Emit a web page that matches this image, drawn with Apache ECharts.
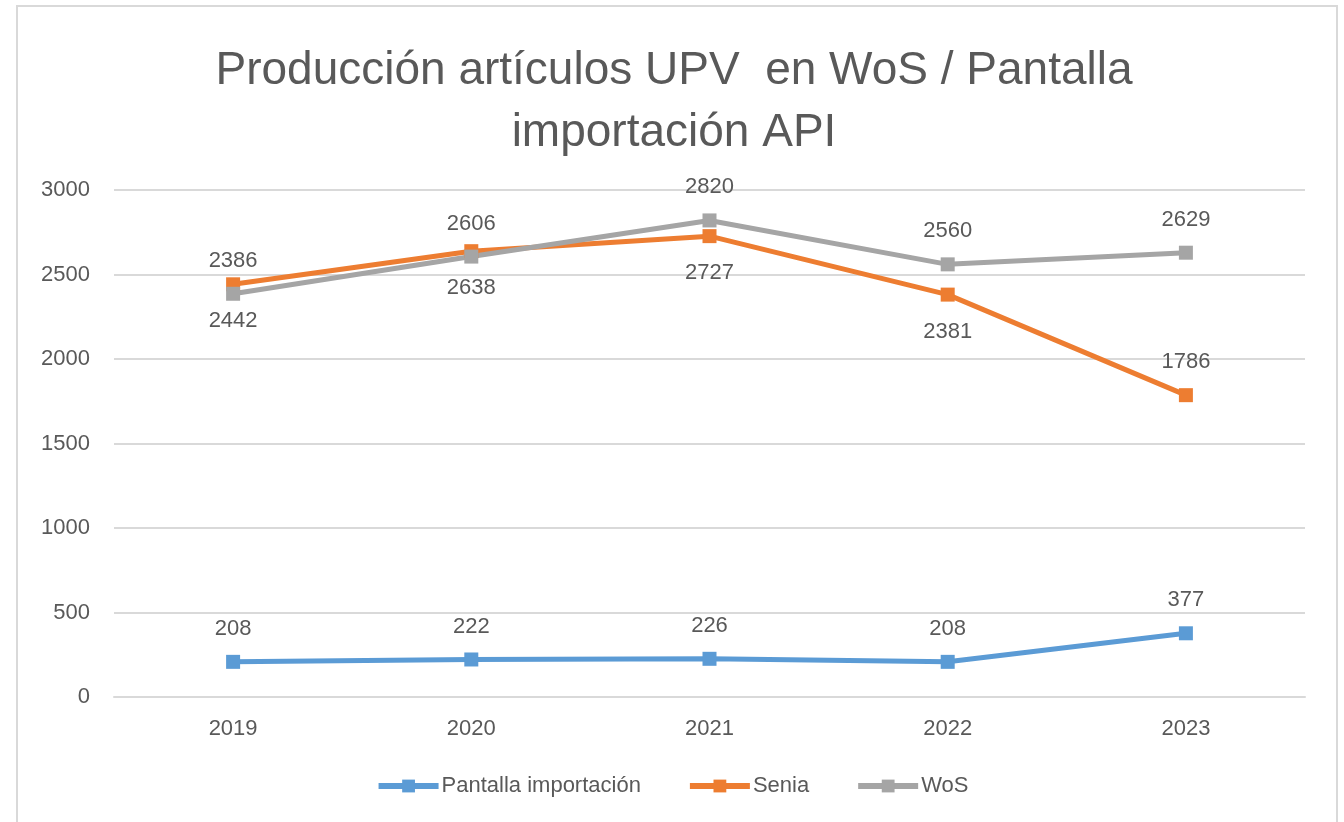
<!DOCTYPE html>
<html>
<head>
<meta charset="utf-8">
<script src="https://cdn.jsdelivr.net/npm/echarts@6/dist/echarts.min.js"></script>
<style>
html,body{margin:0;padding:0;background:#fff;}
#chart{width:1344px;height:822px;}
</style>
</head>
<body>
<div id="chart"></div>
<script>
const categories = ['2019', '2020', '2021', '2022', '2023'];
const pantalla = [208, 222, 226, 208, 377];
const senia = [2442, 2638, 2727, 2381, 1786];
const wos = [2386, 2606, 2820, 2560, 2629];
const seniaLabelPos = ['bottom', 'bottom', 'bottom', 'bottom', 'top'];
const yTicks = [0, 500, 1000, 1500, 2000, 2500, 3000];

const FONT = '"Liberation Sans", "Open Sans", sans-serif';
const TXT = '#595959';

const chart = echarts.init(document.getElementById('chart'));

function lineSeries(name, data, color, labelPos) {
  return {
    name: name,
    type: 'line',
    data: data.map((v, i) => ({
      value: v,
      label: { position: labelPos[i], distance: labelPos[i] === 'top' ? 15 : 19 }
    })),
    symbol: 'rect',
    symbolSize: 14,
    lineStyle: { color: color, width: 5 },
    itemStyle: { color: color },
    label: { show: true, color: TXT, fontSize: 22, fontFamily: FONT },
    z: 3
  };
}

chart.setOption({
  animation: false,
  backgroundColor: '#fff',
  title: {
    text: 'Producción artículos UPV  en WoS / Pantalla\nimportación API',
    left: 669,
    textAlign: 'center',
    top: 35,
    textStyle: { fontFamily: FONT, fontSize: 46, fontWeight: 'normal', color: TXT, lineHeight: 62 }
  },
  legend: {
    bottom: 20,
    left: 'center',
    itemWidth: 60,
    itemHeight: 16,
    itemGap: 46,
    lineStyle: { width: 6 },
    textStyle: { fontFamily: FONT, fontSize: 22, color: TXT, padding: [0, 0, 0, -2] },
    data: ['Pantalla importación', 'Senia', 'WoS']
  },
  grid: { left: 114, right: 39, top: 190, bottom: 125 },
  xAxis: {
    type: 'category',
    data: categories,
    boundaryGap: true,
    axisLine: { lineStyle: { color: '#d9d9d9', width: 2 } },
    axisTick: { show: false },
    axisLabel: { color: TXT, fontSize: 22, fontFamily: FONT, margin: 21 }
  },
  yAxis: {
    type: 'value',
    min: yTicks[0],
    max: yTicks[yTicks.length - 1],
    interval: yTicks[1] - yTicks[0],
    axisLine: { show: false },
    axisTick: { show: false },
    splitLine: { lineStyle: { color: '#d9d9d9', width: 2 } },
    axisLabel: { color: TXT, fontSize: 22, fontFamily: FONT, margin: 24, formatter: v => String(v) }
  },
  graphic: [{
    type: 'rect',
    shape: { x: 17, y: 6, width: 1320, height: 830 },
    style: { fill: 'none', stroke: '#d9d9d9', lineWidth: 2 },
    silent: true
  }],
  series: [
    lineSeries('Pantalla importación', pantalla, '#5B9BD5', ['top', 'top', 'top', 'top', 'top']),
    lineSeries('Senia', senia, '#ED7D31', seniaLabelPos),
    lineSeries('WoS', wos, '#A5A5A5', ['top', 'top', 'top', 'top', 'top'])
  ]
});
</script>
</body>
</html>
